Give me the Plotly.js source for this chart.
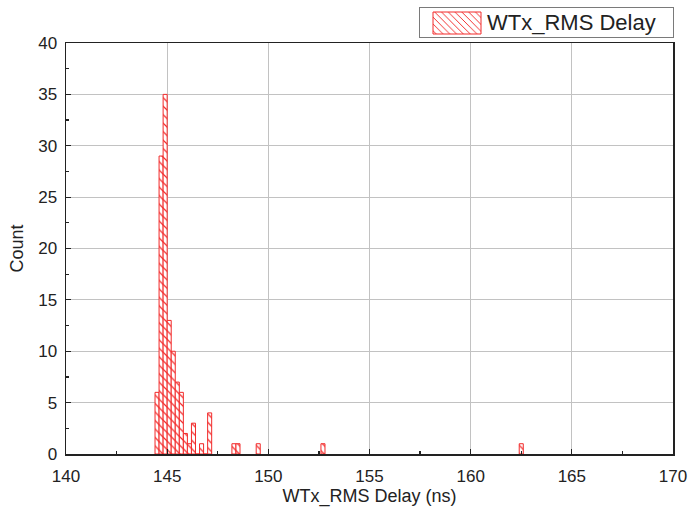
<!DOCTYPE html>
<html>
<head>
<meta charset="utf-8">
<script src="https://cdn.plot.ly/plotly-3.0.1.min.js"></script>
<style>
  html, body { margin: 0; padding: 0; background: #fff; }
  #chart { width: 688px; height: 512px; }
</style>
</head>
<body>
<div id="chart"></div>
<script>
// Histogram bins (ns, bin centres, width 0.2 ns) and counts
const binCenters = [144.5, 144.7, 144.9, 145.1, 145.3, 145.5, 145.7, 145.9, 146.1, 146.3, 146.5, 146.7, 146.9, 147.1, 148.3, 148.5, 149.5, 152.7, 162.5];
const counts     = [6,     29,    35,    13,    10,    7,     6,     2,     1,     3,     0,     1,     0,     4,     1,     1,     1,     1,     1];
const binWidth = 0.2;
const seriesName = "WTx_RMS Delay";
const xTicks = [140, 145, 150, 155, 160, 165, 170];
const yTicks = [0, 5, 10, 15, 20, 25, 30, 35, 40];

const FONT = "Liberation Sans, Arial, sans-serif";

const trace = {
  type: "bar",
  name: seriesName,
  x: binCenters,
  y: counts,
  width: binWidth,
  showlegend: true,
  marker: {
    color: "#ffffff",
    line: { color: "#f22a2a", width: 1 },
    pattern: { shape: "\\", fgcolor: "#f22a2a", bgcolor: "#ffffff", size: 6, solidity: 0.2 }
  }
};

const axisCommon = {
  showline: true, mirror: true, linecolor: "#222", linewidth: 1.5,
  showgrid: true, gridcolor: "#c2c2c2", gridwidth: 1,
  zeroline: false,
  ticks: "inside", ticklen: 5, tickwidth: 1.2, tickcolor: "#222",
  tickfont: { family: FONT, size: 17, color: "#222" }
};

const layout = {
  width: 688, height: 512,
  margin: { l: 66, r: 15, t: 43, b: 58, pad: 0, autoexpand: false },
  paper_bgcolor: "#fff", plot_bgcolor: "#fff",
  font: { family: FONT, color: "#222" },
  xaxis: Object.assign({}, axisCommon, {
    range: [140, 170], tickvals: xTicks, ticktext: xTicks.map(String),
    minor: { ticks: "inside", ticklen: 3, tickwidth: 1.2, tickcolor: "#222", dtick: 2.5, tick0: 140, showgrid: false },
    ticklabelstandoff: 6,
    title: { text: "WTx_RMS Delay (ns)", font: { family: FONT, size: 18, color: "#222" }, standoff: 4 }
  }),
  yaxis: Object.assign({}, axisCommon, {
    range: [0, 40], tickvals: yTicks, ticktext: yTicks.map(String),
    minor: { ticks: "inside", ticklen: 3, tickwidth: 1.2, tickcolor: "#222", dtick: 2.5, tick0: 0, showgrid: false },
    ticklabelstandoff: 4,
    title: { text: "Count", font: { family: FONT, size: 18, color: "#222" }, standoff: 10 }
  }),
  bargap: 0,
  showlegend: true,
  legend: {
    x: 1.0, xanchor: "right", y: 1.09, yanchor: "top",
    bgcolor: "#fff", bordercolor: "#7a7a7a", borderwidth: 1,
    font: { family: FONT, size: 22, color: "#222" },
    itemwidth: 58
  }
};

function toLocal(el, x, y) {
  return new DOMPoint(x, y).matrixTransform(el.getScreenCTM().inverse());
}

Plotly.newPlot("chart", [trace], layout, { displayModeBar: false, staticPlot: true }).then(function (gd) {
  const legend = gd.querySelector(".legend");
  if (!legend) return;
  const sb = legend.querySelector(".scrollbox");
  if (sb) sb.removeAttribute("clip-path");
  // legend frame: reference box spans x 419..673, y 7..37
  const bg = legend.querySelector("rect.bg");
  if (bg) {
    const a = toLocal(bg, 419.5, 7.5), b = toLocal(bg, 673.5, 37.5);
    bg.setAttribute("x", a.x); bg.setAttribute("y", a.y);
    bg.setAttribute("width", b.x - a.x); bg.setAttribute("height", b.y - a.y);
  }
  // wide hatched swatch: x 433..481, y 12..34
  const sw = legend.querySelector(".legendpoints path");
  if (sw) {
    const a = toLocal(sw, 433, 12), b = toLocal(sw, 481, 34);
    sw.setAttribute("d", "M" + b.x + "," + b.y + "H" + a.x + "V" + a.y + "H" + b.x + "Z");
  }
  // legend text: starts at x 487, centred on y ~22
  const t = legend.querySelector("text.legendtext");
  if (t) {
    const r = t.getBoundingClientRect();
    const dx = 487 - r.left;
    const dy = 22 - (r.top + r.height / 2);
    t.setAttribute("transform", "translate(" + dx + "," + dy + ") " + (t.getAttribute("transform") || ""));
  }
});
</script>
</body>
</html>
